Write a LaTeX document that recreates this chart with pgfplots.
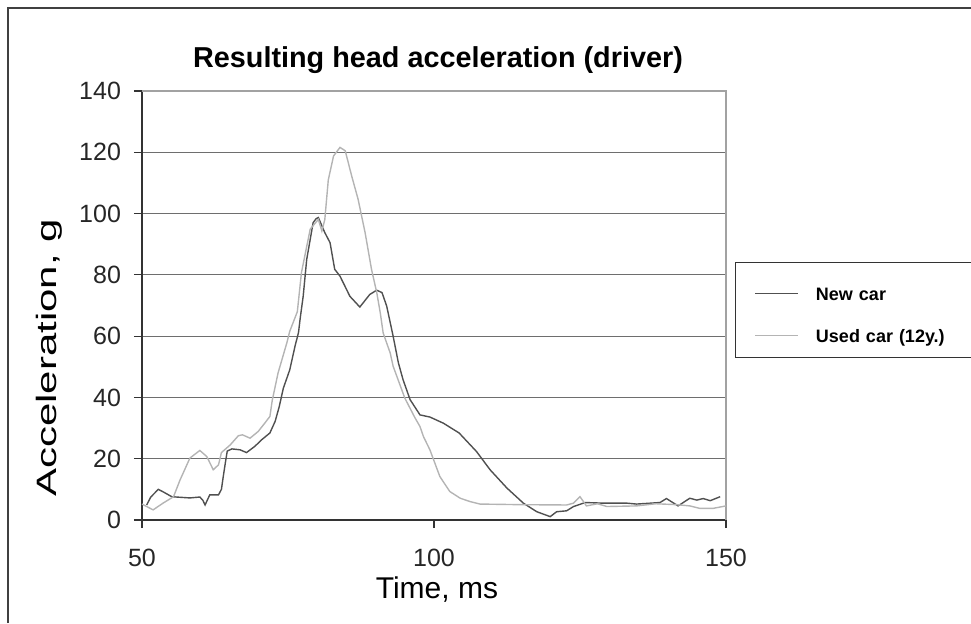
\documentclass[border=0pt]{standalone}
\usepackage{fontspec}
\setmainfont{Liberation Sans}
\usepackage{graphicx}
\usepackage{pgfplots}
\pgfplotsset{compat=1.18}
\definecolor{newc}{HTML}{505050}
\definecolor{usedc}{HTML}{B4B4B4}
\definecolor{gridc}{HTML}{6E6E6E}
\begin{document}
\begin{tikzpicture}
\useasboundingbox (0,0) rectangle (485.5pt,311.5pt);
\draw[black!75, line width=0.6pt] (4pt,0) -- (4pt,307.5pt) -- (485.5pt,307.5pt);
\node[font=\bfseries\fontsize{14.4}{17}\selectfont] at (219pt,281.5pt) {Resulting head acceleration (driver)};
\begin{axis}[
  at={(71pt,51.5pt)}, anchor=south west,
  scale only axis, width=292pt, height=214.5pt,
  xmin=50, xmax=150, ymin=0, ymax=140,
  xtick={50,100,150}, ytick={0,20,...,140},
  axis x line*=bottom, axis y line*=left,
  axis line style={black!80, line width=0.6pt},
  tick style={black!80, line width=0.6pt},
  tick align=outside, major tick length=4pt,
  ymajorgrids, grid style={gridc, line width=0.6pt},
  /pgf/number format/assume math mode=true,
  ticklabel style={font=\fontsize{12.5}{14}\selectfont, black!85},
  yticklabel style={xshift=-3pt},
  xticklabel style={yshift=-7pt},
  xlabel={Time, ms}, ylabel={\scalebox{1.5}[1]{Acceleration, g}},
  xlabel style={font=\fontsize{15}{17}\selectfont, at={(axis description cs:0.505,-0.161)}, anchor=center},
  ylabel style={font=\fontsize{14}{16}\selectfont, at={(axis description cs:-0.159,0.378)}, anchor=center, rotate=0},
  legend style={at={(axis description cs:1.0154,0.6014)}, anchor=north west, draw=black!80, line width=0.6pt,
    font=\bfseries\fontsize{9}{10.5}\selectfont, inner xsep=9.5pt, inner ysep=4.8pt, row sep=4.1pt,
    /tikz/every odd column/.append style={column sep=6.5pt},
    nodes={text width=70pt, anchor=west, text height=10.9pt, text depth=0pt, inner ysep=3pt}},
  legend cell align=left,
  legend image code/.code={\draw[#1] (0pt,-2.25pt) -- (21.5pt,-2.25pt);},
  clip=false,
]
\draw[usedc!90!black, line width=0.8pt] (axis cs:50,140) -- (axis cs:150,140) -- (axis cs:150,0);
\addplot[newc, line width=0.7pt] coordinates {
(50.8,4.9) (51.5,7.5)(52.8,10)(53.8,9) (55.1,7.6)(58.2,7.2)(59.9,7.5)(60.4,6.5)(60.8,4.9)(61.6,8.2)(63.1,8.2)(63.6,10)(63.9,14)(64.3,19)(64.6,22.5)(65.4,23.2)(66.8,22.9)(67.9,22.0)(69.3,24)(70.5,26.2)(71.9,28.4)(72.8,32.2)(73.5,37)(74.2,43)(75.3,49)(76.2,56.7)(76.8,61.2)(77.1,66)(77.6,73)(78.2,85)(79.3,97)(79.8,98.3)(80.2,98.7)(80.8,96)(81.3,93.8)(82.2,90.5)(83,81.8)(83.9,79.6)(85.6,73)(87.3,69.5)(89,73.6)(90.2,75)(91.1,74.2)(91.9,69.8)(93,60)(93.9,51.3)(94.7,45.8)(95.9,39.3)(97.6,34.3)(99.3,33.6)(101.6,31.6)(104.3,28.4)(107.3,22.3)(109.6,16.4)(112.5,10.4)(115.3,5.5)(117.6,2.7)(119.9,1.1)(121,2.7)(122.7,3)(123.9,4.4)(125.9,5.7)(129,5.5)(133,5.5)(134.7,5.2)(138.7,5.7)(139.8,7)(141.8,4.6)(143.8,7.1)(145,6.5)(146.1,7)(147.3,6.3)(149,7.6)
};
\addlegendentry{New car}
\addplot[usedc, line width=0.7pt] coordinates {
(50,5.2)(51.9,3.3)(53.6,5.5)(55.4,7.6)(56.5,13)(58.2,20.2)(59.9,22.7)(61.1,20.7)(62.2,16.4)(63.1,18)(63.6,22)(65.1,24.5)(66.5,27.5)(67.2,27.8)(68.5,26.7)(69.9,28.9)(71.1,31.8)(71.9,33.8)(72.3,39)(73.3,48)(74.8,57.8)(75.3,61.6)(76.2,66)(76.6,68)(77.3,80.7)(78.8,94.9)(80.2,98.1)(80.8,94.3)(81.3,98)(81.9,111)(82.8,118.8)(83.9,121.6)(84.8,120.5)(85.9,112.3)(87,104.7)(88.2,93.8)(89.3,81.8)(90.2,74.2)(90.8,67.6)(91.3,61)(92.5,54.5)(93,50.2)(95,39.8)(96.7,33.5)(97.6,30.5)(98.2,27.2)(99.3,22.9)(101,14.2)(102.7,9.3)(104.5,7.1)(106.2,6)(107.9,5.2)(115,5)(122.7,4.9)(123.9,5.5)(125,7.6)(125.3,6.8)(126.1,4.6)(128,5.3)(129.6,4.4)(134.7,4.6)(138,5.3)(141.6,5)(143.8,4.6)(145.5,3.8)(147.8,3.8)(150,4.6)
};
\addlegendentry{Used car (12y.)}
\end{axis}
\end{tikzpicture}
\end{document}
